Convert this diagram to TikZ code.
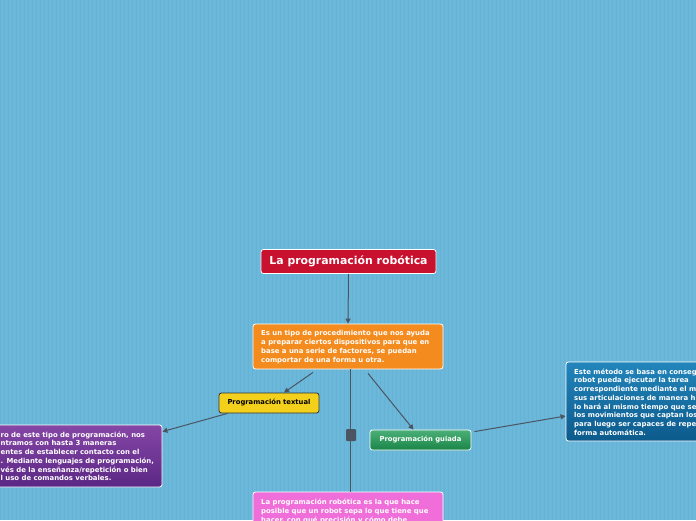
\documentclass[tikz,border=0pt]{standalone}
\usepackage{fontspec}
\setmainfont{DejaVu Sans}
\usetikzlibrary{arrows.meta}

\definecolor{bgblue}{HTML}{6CB8DB}
\definecolor{gridblue}{HTML}{66B2D6}
\definecolor{linkgray}{HTML}{4B5561}
\definecolor{titlered}{HTML}{C8112F}
\definecolor{orangebox}{HTML}{F48B1F}
\definecolor{yellowbox}{HTML}{F2D01C}
\definecolor{greenbox}{HTML}{1E9C55}
\definecolor{purpletop}{HTML}{8546A6}
\definecolor{purplebot}{HTML}{5B2784}
\definecolor{bluetop}{HTML}{2285BB}
\definecolor{bluebot}{HTML}{0C5A8C}
\definecolor{pinkbox}{HTML}{F06ED9}

\begin{document}
\begin{tikzpicture}[x=1pt,y=-1pt,
  box/.style={rounded corners=2.5pt, draw=white, line width=0.8pt, inner sep=0pt},
  label/.style={font=\bfseries\fontsize{6.8}{8}\selectfont},
  txt/.style={font=\bfseries\fontsize{6.9}{8.7}\selectfont, text=white, align=left,
    inner sep=0pt, anchor=north west},
  link/.style={draw=linkgray, line width=1pt},
  arr/.style={link, -{Triangle[length=5pt,width=5pt]}}]

    % Background
    \fill[bgblue] (0,0) rectangle (696,520);
    \useasboundingbox (0,0) rectangle (696,520);
    \clip (0,0) rectangle (696,520);
    \draw[gridblue, line width=0.4pt, step=4] (0,0) grid (696,520);

    % Main topic
    \node[box, fill=titlered, text=white, minimum width=175pt, minimum height=24pt,
      font=\bfseries\fontsize{10.9}{12}\selectfont] (title) at (348.5,261.5) {La programación robótica};

    % Definition
    \node[box, fill=orangebox, minimum width=190pt, minimum height=45pt] (orange) at (348,346.5) {};
    \node[txt] (orangetext) at (261,330.5) {Es un tipo de procedimiento que nos ayuda\\
      a preparar ciertos dispositivos para que en\\
      base a una serie de factores, se puedan\\
      comportar de una forma u otra.};

    % Programación textual
    \node[box, draw=black!80, fill=yellowbox, minimum width=100pt, minimum height=20pt,
      label] (textual) at (269,403) {Programación textual};
    \node[box, top color=purpletop, bottom color=purplebot, minimum width=182pt,
      minimum height=62pt] (purple) at (71,456) {};
    \node[txt] (purpletext) at (0.5,431.5) {ro de este tipo de programación, nos\\
      ntramos con hasta 3 maneras\\
      entes de establecer contacto con el\\
      . Mediante lenguajes de programación,\\
      vés de la enseñanza/repetición o bien\\
      l uso de comandos verbales.};

    % Programación guiada
    \node[box, top color=greenbox!80!white, bottom color=greenbox!85!black,
      text=white, minimum width=101pt, minimum height=20pt, label] (guided) at (420.5,440) {Programación guiada};
    \node[box, top color=bluetop, bottom color=bluebot, minimum width=150pt,
      minimum height=79pt] (blue) at (641,401.5) {};
    \node[txt] (bluetext) at (574,368.5) {Este método se basa en conseg\\
      robot pueda ejecutar la tarea\\
      correspondiente mediante el m\\
      sus articulaciones de manera h\\
      lo hará al mismo tiempo que se\\
      los movimientos que captan los\\
      para luego ser capaces de repe\\
      forma automática.};

    % Closing note
    \node[box, fill=pinkbox, minimum width=190pt, minimum height=50pt] (pink) at (348,517) {};
    \node[txt] (pinktext) at (261,499) {La programación robótica es la que hace\\
      posible que un robot sepa lo que tiene que\\
      hacer, con qué precisión y cómo debe};

    % Connectors
    \draw[arr] (title.south) -- (orange.north);
    \draw[arr] ([xshift=-35pt,yshift=-3pt]orange.south) -- ([xshift=15pt]textual.north);
    \draw[arr] ([xshift=20pt,yshift=-4pt]orange.south) -- ([xshift=-7pt]guided.north);
    \draw[link] ([xshift=2.5pt]orange.south) -- ([xshift=2.5pt]pink.north);
    \draw[arr] ([xshift=9pt]textual.south west) -- ([yshift=-7pt]purple.north east);
    \draw[arr] ([xshift=3pt,yshift=-2pt]guided.north east) -- ([yshift=-14.5pt]blue.west);

    % Collapse handle
    \node[fill=linkgray, minimum width=10pt, minimum height=12pt, inner sep=0pt,
      rounded corners=1pt] (toggle) at (351,435) {};
\end{tikzpicture}
\end{document}
